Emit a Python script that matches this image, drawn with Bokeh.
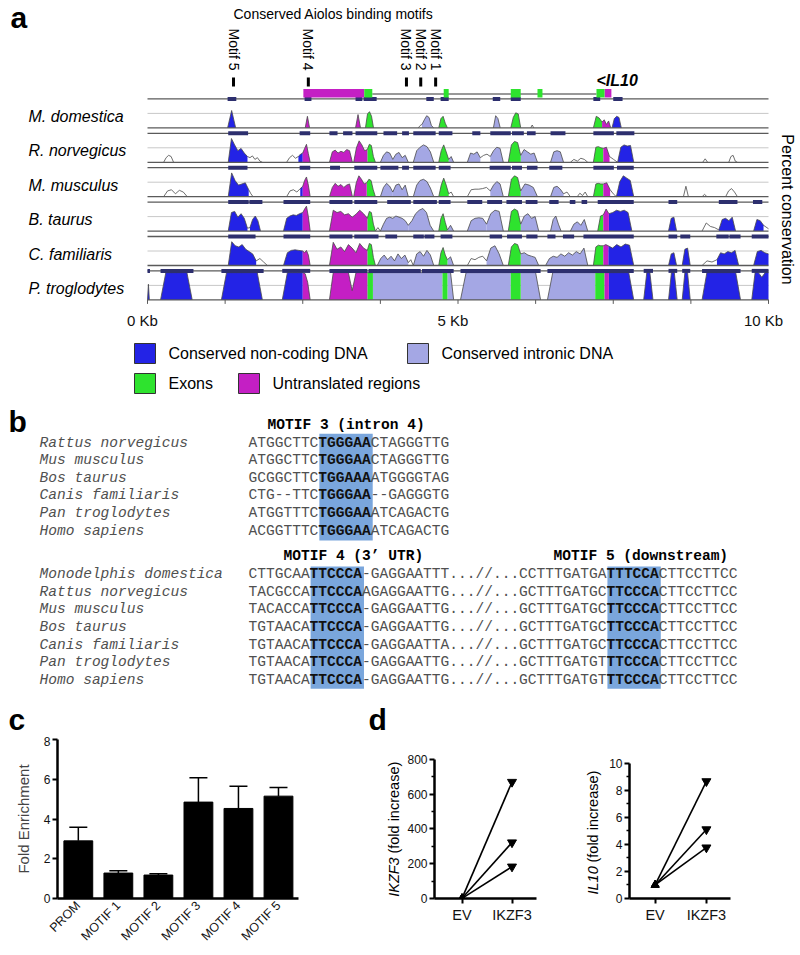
import math
import numpy as np
from bokeh.plotting import figure
from bokeh.models import Range1d, FixedTicker, ColumnDataSource, Whisker, TeeHead
from bokeh.layouts import column, row
from bokeh.core.properties import value
from bokeh.embed import file_html
from bokeh.resources import INLINE

SANS = "Liberation Sans"
MONO = "Liberation Mono"

# ======================= PANEL A DATA =======================
KB_TICKS = [0, 1.25, 2.5, 3.75, 5, 6.25, 7.5, 8.75, 10]
KB_LABELLED = [0, 5, 10]
KB_TICK_LABELS = ["0 Kb", "5 Kb", "10 Kb"]

SPECIES_A = ["M. domestica", "R. norvegicus", "M. musculus", "B. taurus",
             "C. familiaris", "P. troglodytes"]

MOTIF_NAMES = ["Motif 5", "Motif 4", "Motif 3", "Motif 2", "Motif 1"]
MOTIF_KB = [1.385, 2.59, 4.17, 4.40, 4.64]

UTR_KB = [(2.51, 3.49), (7.36, 7.47)]
EXON_KB = [(3.49, 3.62), (4.77, 4.85), (5.85, 6.01), (6.28, 6.36), (7.23, 7.36)]
INTRON_KB = (3.62, 7.23)

# conservation profiles: (start kb, end kb, class, percent identity samples)
# classes: n = non-coding, i = intronic, e = exon, u = UTR, o = below threshold
MDOM = [
    (1.29, 1.42, "n", [50, 80, 50]),
    (2.54, 2.61, "u", [50, 70, 50]),
    (3.35, 3.43, "u", [50, 73, 50]),
    (3.51, 3.64, "e", [50, 74, 78, 70, 50]),
    (4.36, 4.42, "o", [50, 54, 56]),
    (4.42, 4.61, "i", [56, 64, 71, 68, 54, 50]),
    (4.69, 4.83, "e", [50, 66, 70, 58, 50]),
    (5.57, 5.68, "i", [50, 71, 66, 50]),
    (5.85, 6.01, "e", [50, 68, 76, 74, 50]),
    (6.17, 6.22, "o", [50, 55, 50]),
    (7.18, 7.32, "e", [50, 70, 67, 60]),
    (7.32, 7.46, "u", [60, 64, 56, 62, 50]),
    (7.48, 7.63, "n", [50, 66, 70, 68, 50]),
]
RNOR = [
    (0.26, 0.42, "o", [50, 58, 62, 60, 50]),
    (1.30, 1.61, "n", [50, 91, 80, 70, 74, 66, 60]),
    (1.61, 1.85, "o", [60, 58, 61, 55, 58, 52, 50]),
    (2.24, 2.43, "o", [50, 58, 62, 57, 60]),
    (2.43, 2.50, "n", [60, 64, 66]),
    (2.50, 2.62, "u", [66, 74, 81, 65, 50]),
    (2.93, 3.30, "u", [50, 68, 71, 66, 69, 67, 72, 70, 50]),
    (3.32, 3.54, "u", [50, 75, 87, 80, 70, 72]),
    (3.54, 3.67, "e", [72, 81, 79, 60, 50]),
    (3.75, 4.20, "i", [50, 62, 68, 66, 55, 64, 67, 58, 62, 50]),
    (4.28, 4.61, "i", [50, 70, 76, 80, 77, 68, 50]),
    (4.69, 4.85, "e", [50, 70, 80, 68, 55]),
    (4.85, 4.93, "i", [55, 60, 50]),
    (5.15, 5.36, "i", [50, 66, 64, 68, 58]),
    (5.36, 5.52, "o", [58, 62, 64, 60]),
    (5.52, 5.73, "i", [60, 70, 76, 74, 50]),
    (5.81, 6.01, "e", [50, 80, 86, 84, 62]),
    (6.01, 6.28, "i", [62, 72, 68, 64, 66, 50]),
    (6.49, 6.70, "i", [50, 68, 70, 68, 50]),
    (6.81, 7.09, "o", [50, 55, 52, 57, 55, 50]),
    (7.18, 7.34, "e", [50, 76, 77, 75, 74]),
    (7.34, 7.44, "u", [74, 76, 60]),
    (7.44, 7.57, "o", [60, 55, 50]),
    (7.57, 7.83, "n", [50, 76, 80, 78, 79, 50]),
    (8.94, 9.02, "o", [50, 56, 50]),
    (9.36, 9.50, "o", [50, 60, 62, 52, 50]),
]
MMUS = [
    (0.26, 0.64, "o", [50, 60, 62, 55, 61, 58, 50]),
    (1.30, 1.63, "n", [50, 91, 78, 70, 72, 74, 62]),
    (1.63, 1.70, "o", [62, 55, 50]),
    (2.24, 2.46, "o", [50, 60, 62, 58, 64]),
    (2.46, 2.50, "n", [64, 68]),
    (2.50, 2.62, "u", [68, 78, 84, 70, 50]),
    (2.93, 3.30, "u", [50, 66, 73, 68, 71, 66, 70, 72, 50]),
    (3.32, 3.53, "u", [50, 74, 86, 80, 72, 74]),
    (3.53, 3.67, "e", [74, 80, 78, 62, 50]),
    (3.75, 3.95, "i", [50, 66, 73, 68, 58]),
    (3.95, 4.20, "i", [58, 70, 72, 62, 70, 50]),
    (4.28, 4.61, "i", [50, 70, 78, 80, 76, 65, 50]),
    (4.69, 4.85, "e", [50, 70, 82, 70, 55]),
    (4.85, 4.93, "o", [55, 58, 50]),
    (5.15, 5.52, "o", [50, 62, 63, 63, 64, 66, 60]),
    (5.52, 5.73, "i", [60, 70, 76, 72, 50]),
    (5.81, 6.01, "e", [50, 80, 86, 83, 60]),
    (6.01, 6.28, "i", [60, 72, 70, 66, 50]),
    (6.49, 6.70, "i", [50, 66, 68, 63, 55]),
    (6.70, 6.81, "o", [55, 58, 50]),
    (6.92, 7.09, "o", [50, 56, 52, 58, 50]),
    (7.18, 7.34, "e", [50, 72, 73, 72, 72]),
    (7.34, 7.45, "u", [72, 74, 62]),
    (7.45, 7.55, "o", [62, 55, 50]),
    (7.55, 7.83, "n", [50, 76, 86, 82, 78, 50]),
    (8.63, 8.71, "o", [50, 68, 50]),
    (8.93, 9.01, "o", [50, 54, 50]),
    (9.31, 9.50, "o", [50, 60, 64, 58, 50]),
]
BTAU = [
    (1.30, 1.61, "n", [50, 82, 84, 74, 80, 72, 55]),
    (1.61, 1.65, "o", [55, 56]),
    (1.65, 1.82, "n", [56, 70, 76, 68, 50]),
    (2.19, 2.50, "n", [50, 72, 76, 78, 77, 80, 82]),
    (2.50, 2.62, "u", [82, 88, 93, 75, 50]),
    (2.93, 3.54, "u", [50, 86, 82, 84, 78, 80, 74, 79, 86, 80, 72]),
    (3.54, 3.67, "e", [72, 84, 82, 62, 50]),
    (3.67, 3.75, "o", [50, 56, 50]),
    (3.75, 4.20, "i", [50, 62, 72, 74, 72, 76, 74, 72, 68, 60]),
    (4.20, 4.61, "i", [60, 68, 80, 86, 89, 82, 60, 50]),
    (4.69, 4.83, "e", [50, 72, 80, 65, 52]),
    (4.83, 4.93, "i", [52, 60, 50]),
    (5.15, 5.46, "i", [50, 68, 72, 73, 72, 62]),
    (5.46, 5.73, "i", [62, 80, 86, 84, 50]),
    (5.81, 6.01, "e", [50, 84, 88, 85, 62]),
    (6.01, 6.30, "i", [62, 76, 80, 72, 75, 50]),
    (6.49, 6.66, "i", [50, 70, 76, 62, 50]),
    (6.81, 7.09, "i", [50, 62, 66, 60, 70, 50]),
    (7.25, 7.34, "e", [50, 76, 78]),
    (7.34, 7.43, "u", [78, 88, 80]),
    (7.43, 7.80, "n", [80, 82, 86, 84, 86, 82, 50]),
    (8.39, 8.52, "n", [50, 72, 74, 50]),
    (8.93, 9.20, "o", [50, 64, 58, 56, 52]),
    (9.20, 9.47, "n", [52, 70, 72, 68, 74, 50]),
    (9.76, 9.92, "n", [50, 70, 68, 60]),
    (9.92, 10.0, "o", [60, 54]),
]
CFAM = [
    (1.30, 1.75, "n", [50, 91, 84, 82, 86, 78, 74, 70, 58]),
    (1.75, 1.93, "o", [58, 62, 56, 50]),
    (2.19, 2.50, "n", [50, 72, 76, 77, 76, 75]),
    (2.50, 2.62, "u", [75, 72, 76, 68, 50]),
    (2.93, 3.54, "u", [50, 90, 78, 82, 74, 86, 80, 72, 88, 80, 76]),
    (3.54, 3.67, "e", [76, 88, 86, 64, 50]),
    (3.70, 4.20, "i", [50, 62, 68, 60, 66, 58, 70, 62, 68, 55]),
    (4.20, 4.28, "o", [55, 60, 50]),
    (4.28, 4.61, "i", [50, 70, 74, 66, 76, 68, 50]),
    (4.69, 4.83, "e", [50, 72, 81, 68, 60]),
    (4.83, 4.93, "i", [60, 65, 50]),
    (5.15, 5.46, "o", [50, 62, 60, 64, 66, 58]),
    (5.46, 5.73, "i", [58, 80, 84, 70, 50]),
    (5.81, 6.01, "e", [50, 82, 88, 86, 70]),
    (6.01, 6.30, "i", [70, 72, 68, 66, 64, 50]),
    (6.41, 7.09, "i", [50, 62, 66, 64, 70, 66, 72, 68, 74, 70, 80, 50]),
    (7.18, 7.34, "e", [50, 82, 85, 84, 84]),
    (7.34, 7.42, "u", [84, 86, 84]),
    (7.42, 7.83, "n", [84, 80, 86, 82, 87, 85, 50]),
    (8.39, 8.52, "n", [50, 70, 72, 50]),
    (8.61, 8.74, "n", [50, 78, 80, 50]),
    (8.93, 9.17, "o", [50, 58, 56, 60]),
    (9.17, 9.52, "n", [60, 72, 70, 74, 72, 76, 50]),
    (9.76, 10.0, "n", [50, 74, 76, 72, 70]),
]
PTRO = [
    (0.00, 0.03, "n", [50, 77, 50]),
    (0.21, 0.72, "n", [50, 97, 97, 97, 97, 97, 50]),
    (1.19, 1.85, "n", [50, 97, 97, 97, 97, 97, 97, 97, 50]),
    (2.17, 2.50, "n", [50, 97, 97, 97, 97]),
    (2.50, 2.62, "u", [97, 95, 80, 50]),
    (2.93, 3.54, "u", [50, 97, 97, 97, 97, 97, 66, 97, 97, 97, 97]),
    (3.54, 3.63, "e", [97, 97]),
    (3.63, 4.75, "i", [97, 97]),
    (4.75, 4.83, "e", [97, 97]),
    (4.83, 4.93, "i", [97, 97, 50]),
    (5.04, 5.85, "i", [50, 97, 97, 97, 97, 97, 97, 97, 97, 97]),
    (5.85, 6.01, "e", [97, 97]),
    (6.01, 6.33, "i", [97, 97, 97, 97, 50]),
    (6.44, 7.21, "i", [50, 97, 97, 97, 97, 97, 97, 97, 97, 97]),
    (7.21, 7.36, "e", [97, 97]),
    (7.36, 7.43, "u", [97, 97]),
    (7.43, 7.83, "n", [97, 97, 97, 97, 97, 50]),
    (7.99, 8.14, "n", [50, 97, 97, 50]),
    (8.39, 8.53, "n", [50, 97, 97, 50]),
    (8.61, 8.74, "n", [50, 97, 97, 50]),
    (8.93, 9.55, "n", [50, 97, 97, 97, 97, 97, 97, 97, 50]),
    (9.73, 10.0, "n", [50, 97, 97, 89, 97, 97]),
]
PROFILES = [MDOM, RNOR, MMUS, BTAU, CFAM, PTRO]

# conserved-region markers on each track's upper line (kb)
MDOM_MARKS = [(1.29, 1.43), (2.53, 2.64), (3.35, 3.46), (3.48, 3.69), (4.49, 4.61),
              (4.72, 4.85), (5.56, 5.68), (5.85, 6.01), (7.18, 7.29), (7.50, 7.65)]
RNOR_MARKS = [(1.30, 1.62), (2.45, 2.62), (2.93, 3.06), (3.15, 3.30), (3.35, 3.70),
              (3.80, 4.02), (4.10, 4.21), (4.28, 4.64), (4.69, 4.91), (5.23, 5.36),
              (5.52, 5.85), (5.87, 6.06), (6.11, 6.25), (6.49, 6.73), (7.18, 7.51), (7.55, 7.84)]
MMUS_MARKS = [(1.30, 1.61), (2.45, 2.62), (2.94, 3.10), (3.33, 3.70), (3.75, 4.04),
              (4.10, 4.21), (4.28, 4.64), (4.69, 4.88), (5.51, 5.85), (5.87, 6.03),
              (6.11, 6.28), (6.47, 6.68), (7.18, 7.51), (7.56, 7.83)]
BTAU_MARKS = [(1.30, 1.63), (1.64, 1.85), (2.19, 2.62), (2.93, 3.30), (3.33, 3.70),
              (3.86, 4.24), (4.28, 4.66), (4.69, 4.88), (5.15, 5.39), (5.47, 5.71),
              (5.78, 6.03), (6.09, 6.28), (6.47, 6.62), (6.80, 6.89), (6.99, 7.08),
              (7.25, 7.83), (8.39, 8.53), (9.20, 9.50), (9.75, 9.90)]
CFAM_MARKS = [(1.30, 1.74), (2.19, 2.62), (2.93, 3.30), (3.33, 3.72), (3.83, 4.02),
              (4.28, 4.45), (4.46, 4.62), (4.72, 4.91), (5.51, 5.71), (5.79, 6.03),
              (6.10, 6.28), (6.44, 6.57), (6.69, 6.87), (7.02, 7.83), (8.39, 8.53),
              (8.58, 8.74), (9.16, 9.36), (9.37, 9.55), (9.73, 10.0)]
PTRO_MARKS = [(0.0, 0.04), (0.21, 0.74), (1.19, 1.87), (2.17, 2.62), (2.93, 3.54),
              (3.56, 4.40), (4.42, 4.93), (5.04, 6.33), (6.44, 7.83), (7.99, 8.14),
              (8.39, 8.53), (8.61, 8.74), (8.93, 9.55), (9.73, 10.0)]
MARKS = [MDOM_MARKS, RNOR_MARKS, MMUS_MARKS, BTAU_MARKS, CFAM_MARKS, PTRO_MARKS]

LEGEND_LABELS = ["Conserved non-coding DNA", "Conserved intronic DNA", "Exons", "Untranslated regions"]
LEGEND_CLASSES = ["n", "i", "e", "u"]

CLASS_COLORS = {"n": "#2323e6", "i": "#a4a7e4", "e": "#2ee32e", "u": "#c41fc4"}

# ======================= PANEL B DATA =======================
B1_HEADER = "MOTIF 3 (intron 4)"
B1_SPECIES = ["Rattus norvegicus", "Mus musculus", "Bos taurus", "Canis familiaris",
              "Pan troglodytes", "Homo sapiens"]
B1_PRE = ["ATGGCTTC", "ATGGCTTC", "GCGGCTTC", "CTG--TTC", "ATGGTTTC", "ACGGTTTC"]
B1_MOTIF = ["TGGGAA", "TGGGAA", "TGGAAA", "TGGGAA", "TGGGAA", "TGGGAA"]
B1_POST = ["CTAGGGTTG", "CTAGGGTTG", "ATGGGGTAG", "--GAGGGTG", "ATCAGACTG", "ATCAGACTG"]

B2_HEADERS = ["MOTIF 4 (3\u2019 UTR)", "MOTIF 5 (downstream)"]
B2_SPECIES = ["Monodelphis domestica", "Rattus norvegicus", "Mus musculus", "Bos taurus",
              "Canis familiaris", "Pan troglodytes", "Homo sapiens"]
B2_PRE = ["CTTGCAA", "TACGCCA", "TACACCA", "TGTAACA", "TGTAACA", "TGTAACA", "TGTAACA"]
B2_MOTIF4 = ["TTCCCA", "TTCCCA", "TTCCCA", "TTCCCA", "TTCCCA", "TTCCCA", "TTCCCA"]
B2_MID = ["-GAGGAATTT...//...CCTTTGATGA", "AGAGGAATTG...//...GCTTTGATGC",
          "-GAGGAATTG...//...GCTTTGATGC", "-GAGGAATTG...//...GCTTTGATGC",
          "-GAGGAATTA...//...GCTTTGATGC", "-GAGGAATTG...//...GCTTTGATGT",
          "-GAGGAATTG...//...GCTTTGATGT"]
B2_MOTIF5 = ["TTTCCA", "TTCCCA", "TTCCCA", "TTCCCA", "TTCCCA", "TTCCCA", "TTCCCA"]
B2_POST = ["CTTCCTTCC"] * 7

# ======================= PANEL C DATA =======================
C_CATS = ["PROM", "MOTIF 1", "MOTIF 2", "MOTIF 3", "MOTIF 4", "MOTIF 5"]
C_MEAN = [2.9, 1.28, 1.18, 4.85, 4.53, 5.15]
C_ERR = [0.68, 0.12, 0.07, 1.23, 1.12, 0.43]
C_YTICKS = [0, 2, 4, 6, 8]

# ======================= PANEL D DATA =======================
D_GROUPS = ["EV", "IKZF3"]
D1_EV = [1, 1, 1]
D1_IKZF3 = [670, 322, 183]
D1_YTICKS = [0, 200, 400, 600, 800]
D1_YMINOR = [100, 300, 500, 700]
D2_EV = [1.0, 1.0, 1.0]
D2_IKZF3 = [8.65, 5.1, 3.76]
D2_YTICKS = [0, 2, 4, 6, 8, 10]
D2_YMINOR = [1, 3, 5, 7, 9]

PAGE_W = 800

# ======================= PANEL A =======================
KB_PX = 62.1
KB0_PX = 147.0
TRACK_BASE0 = 127.4
TRACK_PITCH = 34.4
TRACK_H = 29.0


def track_y(i, pct):
    return TRACK_BASE0 + i * TRACK_PITCH - (pct - 50.0) / 50.0 * TRACK_H


def blank_fig(width, height, xr, yr, **kw):
    p = figure(width=width, height=height, x_range=xr, y_range=yr,
               output_backend="svg", toolbar_location=None,
               x_axis_location=None, y_axis_location=None,
               min_border=0, outline_line_color=None, **kw)
    p.xgrid.visible = False
    p.ygrid.visible = False
    return p


pa = blank_fig(PAGE_W, 398, Range1d((0 - KB0_PX) / KB_PX, (PAGE_W - KB0_PX) / KB_PX),
               Range1d(398, 0))
pa.extra_x_ranges = {"px": Range1d(0, PAGE_W)}

n_sp = len(SPECIES_A)
bases = [TRACK_BASE0 + i * TRACK_PITCH for i in range(n_sp)]

pa.segment(x0=[0] * n_sp, x1=[10] * n_sp, y0=[track_y(i, 75) for i in range(n_sp)],
           y1=[track_y(i, 75) for i in range(n_sp)], line_color="#c8c8c8", line_width=1)

pxs = {c: [] for c in "nieu"}
pys = {c: [] for c in "nieu"}
cxs, cys = [], []
for i, regions in enumerate(PROFILES):
    b = bases[i]
    for (s, e, cls, h) in regions:
        xs = list(np.linspace(s, e, len(h)))
        ys = [track_y(i, v) for v in h]
        cxs.append(xs)
        cys.append(ys)
        if cls != "o":
            pxs[cls].append([s] + xs + [e])
            pys[cls].append([b] + ys + [b])
for c in "nieu":
    pa.patches(xs=pxs[c], ys=pys[c], fill_color=CLASS_COLORS[c], line_color=None)
pa.multi_line(xs=cxs, ys=cys, line_color="#4a4a4a", line_width=0.8)

pa.segment(x0=[0] * n_sp, x1=[10] * n_sp, y0=[track_y(i, 100) for i in range(n_sp)],
           y1=[track_y(i, 100) for i in range(n_sp)], line_color="#5a5a5a", line_width=1.3)
pa.segment(x0=[0] * n_sp, x1=[10] * n_sp, y0=bases, y1=bases,
           line_color="#5a5a5a", line_width=1.3)

ml, mr, mt, mb = [], [], [], []
for i, marks in enumerate(MARKS):
    yt = track_y(i, 100)
    for (s, e) in marks:
        ml.append(s); mr.append(e); mt.append(yt - 2); mb.append(yt + 2)
pa.quad(left=ml, right=mr, top=mt, bottom=mb, fill_color="#2d2f6e", line_color=None)

pa.segment(x0=KB_TICKS, x1=KB_TICKS, y0=[bases[-1]] * len(KB_TICKS),
           y1=[bases[-1] + 4] * len(KB_TICKS), line_color="#5a5a5a", line_width=1)
pa.text(x=KB_LABELLED, y=[bases[-1] + 21] * 3, text=KB_TICK_LABELS, x_offset=-5,
        text_align="center", text_baseline="middle", text_font=value(SANS),
        text_font_size="15px", text_color="#111111")

# gene model
pa.segment(x0=[INTRON_KB[0]], x1=[INTRON_KB[1]], y0=[93.5], y1=[93.5],
           line_color="#333333", line_width=1)
pa.quad(left=[u[0] for u in UTR_KB], right=[u[1] for u in UTR_KB], top=[88.5] * 2,
        bottom=[97] * 2, fill_color=CLASS_COLORS["u"], line_color=None)
pa.quad(left=[u[0] for u in EXON_KB], right=[u[1] for u in EXON_KB], top=[88.5] * 5,
        bottom=[97] * 5, fill_color=CLASS_COLORS["e"], line_color=None)
pa.text(x=[EXON_KB[-1][0]], y=[80], text=["<IL10"], text_align="left",
        text_baseline="middle", text_font=value(SANS), text_font_size="16px",
        text_font_style="bold italic", text_color="black")

# motifs
pa.segment(x0=MOTIF_KB, x1=MOTIF_KB, y0=[77] * 5, y1=[86] * 5, line_color="black", line_width=3)
pa.text(x=MOTIF_KB, y=[49] * 5, text=MOTIF_NAMES, angle=-math.pi / 2, text_align="center",
        text_baseline="middle", text_font=value(SANS), text_font_size="14px", text_color="black")
pa.text(x=[333], y=[13], text=["Conserved Aiolos binding motifs"], x_range_name="px",
        text_align="center", text_baseline="middle", text_font=value(SANS),
        text_font_size="14px", text_color="black")
pa.text(x=[10], y=[17], text=["a"], x_range_name="px", text_align="left",
        text_baseline="middle", text_font=value(SANS), text_font_size="30px",
        text_font_style="bold", text_color="black")

pa.text(x=[28] * n_sp, y=[b - 11.5 for b in bases], text=SPECIES_A, x_range_name="px",
        text_align="left", text_baseline="middle", text_font=value(SANS),
        text_font_size="16px", text_font_style="italic", text_color="black")
pa.text(x=[787], y=[209], text=["Percent conservation"], x_range_name="px", angle=-math.pi / 2,
        text_align="center", text_baseline="middle", text_font=value(SANS),
        text_font_size="16px", text_color="black")

LEG_X = [134, 407, 134, 238]
LEG_Y = [353, 353, 383, 383]
pa.quad(left=LEG_X, right=[x + 21 for x in LEG_X], top=[y - 10 for y in LEG_Y],
        bottom=[y + 10 for y in LEG_Y], x_range_name="px",
        fill_color=[CLASS_COLORS[c] for c in LEGEND_CLASSES], line_color="#333333", line_width=1)
pa.text(x=[x + 34 for x in LEG_X], y=LEG_Y, text=LEGEND_LABELS, x_range_name="px",
        text_align="left", text_baseline="middle", text_font=value(SANS),
        text_font_size="16px", text_color="black")

# ======================= PANEL B =======================
pb = blank_fig(PAGE_W, 338, Range1d(0, PAGE_W), Range1d(736, 398))

MONO_PX = 14.55
CW = 0.6 * MONO_PX
X_SEQ = 248.0
X_NAME = 39.0
B1_Y = [442.3 + k * 17.55 for k in range(len(B1_SPECIES))]
B2_Y = [573.4 + k * 17.65 for k in range(len(B2_SPECIES))]

i4 = len(B2_PRE[0])
i5 = len(B2_PRE[0]) + len(B2_MOTIF4[0]) + len(B2_MID[0])
i3 = len(B1_PRE[0])
box_l = [X_SEQ + i3 * CW + 1, X_SEQ + i4 * CW + 1, X_SEQ + i5 * CW + 1]
box_r = [X_SEQ + (i3 + 6) * CW + 2, X_SEQ + (i4 + 6) * CW + 2, X_SEQ + (i5 + 6) * CW + 2]
box_t = [B1_Y[0] - 9, B2_Y[0] - 7.5, B2_Y[0] - 7.5]
box_b = [B1_Y[-1] + 10, B2_Y[-1] + 9, B2_Y[-1] + 9]
pb.quad(left=box_l, right=box_r, top=box_t, bottom=box_b, fill_color="#7aa6dc", line_color=None)

nx, ny, nt, bx, by, bt = [], [], [], [], [], []
for k in range(len(B1_SPECIES)):
    y = B1_Y[k]
    nx += [X_SEQ, X_SEQ + (len(B1_PRE[k]) + len(B1_MOTIF[k])) * CW]
    ny += [y, y]
    nt += [B1_PRE[k], B1_POST[k]]
    bx.append(X_SEQ + len(B1_PRE[k]) * CW); by.append(y); bt.append(B1_MOTIF[k])
for k in range(len(B2_SPECIES)):
    y = B2_Y[k]
    p0 = len(B2_PRE[k])
    p1 = p0 + len(B2_MOTIF4[k])
    p2 = p1 + len(B2_MID[k])
    p3 = p2 + len(B2_MOTIF5[k])
    nx += [X_SEQ, X_SEQ + p1 * CW, X_SEQ + p3 * CW]
    ny += [y, y, y]
    nt += [B2_PRE[k], B2_MID[k], B2_POST[k]]
    bx += [X_SEQ + p0 * CW, X_SEQ + p2 * CW]
    by += [y, y]
    bt += [B2_MOTIF4[k], B2_MOTIF5[k]]

pb.text(x=nx, y=ny, text=nt, text_align="left", text_baseline="middle",
        text_font=value(MONO), text_font_size=f"{MONO_PX}px", text_color="#505050")
pb.text(x=bx, y=by, text=bt, text_align="left", text_baseline="middle",
        text_font=value(MONO), text_font_size=f"{MONO_PX}px", text_font_style="bold",
        text_color="#111111")
pb.text(x=[X_NAME] * (len(B1_SPECIES) + len(B2_SPECIES)), y=B1_Y + B2_Y,
        text=B1_SPECIES + B2_SPECIES, text_align="left", text_baseline="middle",
        text_font=value(MONO), text_font_size=f"{MONO_PX}px", text_font_style="italic",
        text_color="#505050")
pb.text(x=[267, 283, 553], y=[424, 555, 555], text=[B1_HEADER] + B2_HEADERS,
        text_align="left", text_baseline="middle", text_font=value(MONO),
        text_font_size=f"{MONO_PX}px", text_font_style="bold", text_color="black")
pb.text(x=[8], y=[421], text=["b"], text_align="left",
        text_baseline="middle", text_font=value(SANS), text_font_size="30px",
        text_font_style="bold", text_color="black")
pb.text(x=[8, 368], y=[735.5, 735.5], text=["c", "d"], text_align="left",
        text_baseline="bottom", text_font=value(SANS), text_font_size="30px",
        text_font_style="bold", text_color="black")

# ======================= BOTTOM ROW =======================
ROW_H = 215
ROW_TOP = 3       # frame top at page y 739
ROW_BOTTOM = 52   # frame bottom at page y 899
FRAME_TOP_PAGE = 739.0
FRAME_BOT_PAGE = 899.0


def style_axes(p, tick_font="12px"):
    for ax in (p.xaxis + p.yaxis):
        ax.axis_line_width = 2.5
        ax.axis_line_color = "black"
        ax.major_tick_line_width = 2
        ax.major_tick_line_color = "black"
        ax.major_tick_out = 5
        ax.major_tick_in = 0
        ax.minor_tick_line_width = 1.5
        ax.minor_tick_line_color = "black"
        ax.minor_tick_out = 3
        ax.minor_tick_in = 0
        ax.major_label_text_font = SANS
        ax.major_label_text_color = "#111111"
        ax.axis_label_text_font = SANS
        ax.axis_label_text_font_style = "normal"
    p.yaxis.major_label_text_font_size = tick_font
    p.xgrid.visible = False
    p.ygrid.visible = False


# ---- panel c
pc = figure(width=372, height=ROW_H, x_range=Range1d(-0.52, 5.5), y_range=Range1d(0, 8),
            output_backend="svg", toolbar_location=None,
            min_border_left=57, min_border_right=74, min_border_top=ROW_TOP,
            min_border_bottom=ROW_BOTTOM, outline_line_color=None)
xc = list(range(len(C_CATS)))
pc.vbar(x=xc, top=C_MEAN, width=0.72, fill_color="black", line_color="black")
csrc = ColumnDataSource(dict(x=xc, lo=C_MEAN, hi=[m + e for m, e in zip(C_MEAN, C_ERR)]))
pc.add_layout(Whisker(base="x", lower="lo", upper="hi", source=csrc, line_color="black",
                      line_width=1.5, lower_head=None,
                      upper_head=TeeHead(size=18, line_width=1.5, line_color="black")))
style_axes(pc)
pc.xaxis.ticker = FixedTicker(ticks=xc, minor_ticks=[])
pc.xaxis.major_label_overrides = {i: c for i, c in enumerate(C_CATS)}
pc.xaxis.major_label_orientation = math.pi / 4
pc.xaxis.major_label_text_font_size = "12.5px"
pc.xaxis.major_tick_line_color = None
pc.xaxis.major_tick_out = 0
pc.xaxis.major_label_standoff = 5
pc.yaxis.ticker = FixedTicker(ticks=C_YTICKS, minor_ticks=[])
pc.yaxis.major_label_standoff = 2
pc.yaxis.axis_label = "Fold Enrichment"
pc.yaxis.axis_label_text_font_size = "15px"
pc.yaxis.axis_label_standoff = 9


# ---- panel d
def d_fig(width, left, right, xr, y_top_value, y_top_page):
    # y range extends above the top tick so that the top tick sits at y_top_page
    scale = (FRAME_BOT_PAGE - y_top_page) / y_top_value
    y_end = y_top_value + (y_top_page - FRAME_TOP_PAGE) / scale
    p = figure(width=width, height=ROW_H, x_range=xr, y_range=Range1d(0, y_end),
               output_backend="svg", toolbar_location=None,
               min_border_left=left, min_border_right=right,
               min_border_top=ROW_TOP, min_border_bottom=ROW_BOTTOM, outline_line_color=None)
    style_axes(p)
    p.yaxis.bounds = (0, y_top_value)
    p.xaxis.ticker = FixedTicker(ticks=[0, 1], minor_ticks=[])
    p.xaxis.major_label_overrides = {0: D_GROUPS[0], 1: D_GROUPS[1]}
    p.xaxis.major_label_text_font_size = "14.5px"
    p.xaxis.major_label_standoff = 3
    p.yaxis.major_label_standoff = 2
    return p


def d_lines(p, ev, ik):
    n = len(ev)
    p.segment(x0=[0] * n, y0=ev, x1=[1] * n, y1=ik, line_color="black", line_width=1.6)
    p.scatter(x=[0] * n, y=ev, marker="triangle", size=8, fill_color="black", line_color="black")
    p.scatter(x=[1] * n, y=ik, marker="inverted_triangle", size=9, fill_color="black",
              line_color="black")


def ylabel_fig(width, x0, pieces):
    # narrow strip holding a y-axis title made of an italic gene name and plain text
    p = figure(width=width, height=ROW_H, x_range=Range1d(x0, x0 + width),
               y_range=Range1d(FRAME_BOT_PAGE, FRAME_TOP_PAGE),
               output_backend="svg", toolbar_location=None,
               x_axis_location=None, y_axis_location=None,
               min_border_left=0, min_border_right=0, min_border_top=ROW_TOP,
               min_border_bottom=ROW_BOTTOM, outline_line_color=None)
    p.xgrid.visible = False
    p.ygrid.visible = False
    for (txt, xc_, y0, style) in pieces:
        p.text(x=[xc_], y=[y0], text=[txt], angle=math.pi / 2, text_align="left",
               text_baseline="middle", text_font=value(SANS), text_font_size="14.5px",
               text_font_style=style, text_color="black")
    return p


lab1 = ylabel_fig(32, 372, [("IKZF3", 393, 897.3, "italic"),
                            ("(fold increase)", 393, 853.8, "normal")])
pd1 = d_fig(176, 30, 44, Range1d(-0.55, 1.49), 800, 759.0)
pd1.yaxis.ticker = FixedTicker(ticks=D1_YTICKS, minor_ticks=D1_YMINOR)
d_lines(pd1, D1_EV, D1_IKZF3)

lab2 = ylabel_fig(26, 580, [("IL10", 592, 895.0, "italic"),
                            ("(fold increase)", 592, 862.8, "normal")])
pd2 = d_fig(194, 23, 70, Range1d(-0.5, 1.47), 10, 762.7)
pd2.yaxis.ticker = FixedTicker(ticks=D2_YTICKS, minor_ticks=D2_YMINOR)
d_lines(pd2, D2_EV, D2_IKZF3)

layout = column(pa, pb, row(pc, lab1, pd1, lab2, pd2))

with open("out.html", "w") as f:
    f.write(file_html(layout, INLINE))
